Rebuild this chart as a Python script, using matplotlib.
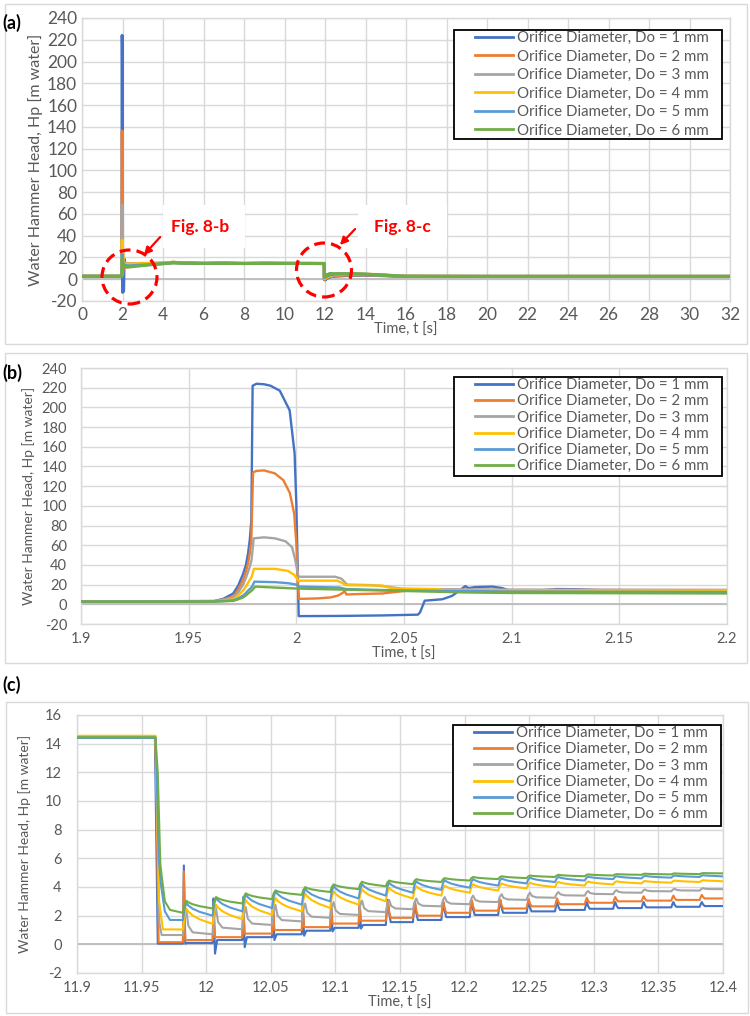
import matplotlib
matplotlib.use("Agg")
import matplotlib.pyplot as plt
import numpy as np
from matplotlib.patches import Rectangle, Ellipse, FancyArrowPatch

plt.rcParams['font.family'] = ['Lato', 'DejaVu Sans']

W, H = 750, 1016

labels = ["Orifice Diameter, Do = 1 mm", "Orifice Diameter, Do = 2 mm",
          "Orifice Diameter, Do = 3 mm", "Orifice Diameter, Do = 4 mm",
          "Orifice Diameter, Do = 5 mm", "Orifice Diameter, Do = 6 mm"]
colors = ["#4472C4", "#ED7D31", "#A5A5A5", "#FFC000", "#5B9BD5", "#70AD47"]

# ---------------- panel (b) data: t in [1.9, 2.2] ----------------
b_blue_t = [1.90, 1.962, 1.966, 1.9707, 1.973, 1.9753, 1.9766, 1.9776, 1.9784, 1.9791, 1.9797, 1.9815,
            1.985, 1.988, 1.9923, 1.9969, 1.9992, 2.0, 2.0006, 2.0011, 2.02, 2.04, 2.0565, 2.0575, 2.0596,
            2.0677, 2.0723, 2.075, 2.0785, 2.0800, 2.083, 2.091, 2.0957, 2.099, 2.11, 2.121, 2.13, 2.14, 2.2]
b_blue_v = [2.7, 3.4, 5.5, 11, 19, 31, 40, 52, 66, 85, 222, 224,
            223.5, 222, 217, 197, 153, 102, 40, -12, -11.8, -11.3, -10.5, -8, 3.7,
            5.1, 8.5, 12.8, 18.5, 16.4, 17.5, 18, 16.4, 14, 13.5, 15.5, 15.3, 14.5, 14]
b_orange_t = [1.90, 1.962, 1.966, 1.9707, 1.973, 1.9753, 1.9766, 1.9776, 1.9784, 1.9791, 1.9799, 1.9815,
              1.985, 1.99, 1.994, 1.997, 1.999, 2.0, 2.0007, 2.0013, 2.01, 2.016, 2.0195, 2.0218, 2.0224,
              2.0232, 2.03, 2.04, 2.046, 2.052, 2.07, 2.1, 2.2]
b_orange_v = [2.7, 3.2, 4.8, 8, 15, 25, 33, 42, 52, 65, 134, 135.5,
              136, 133, 126, 113, 92, 62, 20, 5.5, 6, 7, 9, 12, 14,
              10, 10.5, 11, 12.5, 14, 14.8, 14.6, 14.5]
b_gray_t = [1.90, 1.962, 1.966, 1.9707, 1.973, 1.9753, 1.9766, 1.9776, 1.9785, 1.9792, 1.9802, 1.985,
            1.99, 1.995, 1.998, 1.9995, 2.001, 2.018, 2.021, 2.0235, 2.035, 2.042, 2.05, 2.1, 2.2]
b_gray_v = [2.7, 3.1, 4.5, 7, 12, 20, 27, 33, 39, 45, 67, 68,
            67, 64, 58, 45, 28, 28, 26, 20, 19.5, 18, 15.5, 14.8, 14.6]
b_yellow_t = [1.90, 1.962, 1.966, 1.9707, 1.973, 1.9753, 1.9766, 1.9776, 1.9786, 1.9793, 1.9803, 1.99,
              1.996, 1.999, 2.001, 2.019, 2.021, 2.023, 2.04, 2.043, 2.047, 2.065, 2.07, 2.2]
b_yellow_v = [2.7, 3.0, 3.8, 5, 9, 14, 18, 22, 25.5, 28, 36, 36,
              34, 30, 24, 24, 22, 19.5, 19, 17, 16, 15.5, 14.2, 14]
b_lblue_t = [1.90, 1.962, 1.966, 1.9707, 1.973, 1.9753, 1.9766, 1.9776, 1.9787, 1.9795, 1.9805, 1.99,
             1.996, 2.0, 2.001, 2.02, 2.023, 2.04, 2.05, 2.1, 2.2]
b_lblue_v = [2.7, 2.9, 3.3, 4, 6, 9, 11.5, 14, 16.2, 18, 23, 22.5,
             21.5, 20, 18, 17, 15.5, 14.5, 14, 13, 12.5]
b_green_t = [1.90, 1.962, 1.966, 1.9707, 1.973, 1.9753, 1.9766, 1.9776, 1.9788, 1.9798, 1.981, 1.99,
             2.0, 2.01, 2.03, 2.05, 2.08, 2.1, 2.2]
b_green_v = [2.7, 2.8, 3.0, 3.5, 5, 7, 9, 11, 13, 15, 18, 17,
             16, 15.5, 14.5, 13.5, 12, 11.5, 11]

# ---------------- panel (c) data: t in [11.9, 12.4] ----------------
c_pulse_t = [11.982, 12.005, 12.028, 12.051, 12.074, 12.096, 12.118, 12.139, 12.160, 12.182,
             12.204, 12.226, 12.248, 12.270, 12.293, 12.315, 12.337, 12.360, 12.382]
# initial drop
c_blue_t0 = [11.90, 11.9603, 11.9625];  c_blue_v0 = [14.45, 14.45, 0.05]
c_orange_t0 = [11.90, 11.9607, 11.9632]; c_orange_v0 = [14.45, 14.45, 0.15]
c_gray_t0 = [11.90, 11.9608, 11.9638, 11.9655]; c_gray_v0 = [14.45, 14.45, 1.5, 0.65]
c_yellow_t0 = [11.90, 11.9608, 11.9635, 11.9665]; c_yellow_v0 = [14.55, 14.55, 3.0, 1.04]
c_lblue_t0 = [11.90, 11.961, 11.9632, 11.9652, 11.968, 11.972]; c_lblue_v0 = [14.4, 14.4, 6.0, 4.0, 2.3, 1.7]
c_green_t0 = [11.90, 11.9605, 11.9615, 11.9625, 11.9645, 11.9655, 11.968, 11.972]
c_green_v0 = [14.45, 14.45, 13.3, 12.0, 5.6, 4.8, 3.0, 2.4]
c_pre = [0.05, 0.15, 0.65, 1.04, 1.7, 2.2]
# pulse peaks
c_blue_peak = [5.5, 3.2, 3.3, 3.0, 2.8, 2.8, 2.9, 3.1, 2.9, 2.9, 3.05, 3.1, 2.95, 2.95, 2.95, 2.95, 2.95, 2.95, 2.95]
c_orange_peak = [5.1, 2.6, 2.8, 2.9, 2.8, 2.85, 3.0, 2.95, 2.95, 3.0, 3.05, 3.1, 3.15, 3.2, 3.25, 3.3, 3.35, 3.4, 3.45]
c_gray_peak = [2.4, 2.5, 2.6, 2.75, 2.85, 2.95, 3.05, 3.1, 3.2, 3.3, 3.4, 3.5, 3.6, 3.65, 3.72, 3.78, 3.83, 3.88, 3.92]
c_yellow_peak = [2.5, 2.77, 3.1, 3.24, 3.55, 3.7, 3.85, 3.95, 4.05, 4.1, 4.2, 4.25, 4.3, 4.35, 4.38, 4.4, 4.42, 4.45, 4.47]
c_lblue_peak = [2.88, 3.24, 3.47, 3.7, 3.88, 4.07, 4.2, 4.3, 4.4, 4.48, 4.55, 4.6, 4.65, 4.7, 4.72, 4.75, 4.78, 4.8, 4.82]
c_green_peak = [3.04, 3.3, 3.56, 3.76, 3.99, 4.18, 4.37, 4.45, 4.55, 4.62, 4.7, 4.75, 4.8, 4.85, 4.88, 4.9, 4.93, 4.95, 4.97]
# levels reached before the following pulse
c_blue_base = [0.1, 0.3, 0.5, 0.7, 0.95, 1.15, 1.35, 1.55, 1.7, 1.9, 2.05, 2.2, 2.3, 2.4, 2.48, 2.53, 2.58, 2.62, 2.67]
c_blue_dip = [0.05, -0.65, -0.2, 0.3, 0.6, 0.9, 1.1, 1.3, 1.45, 1.65, 1.85, 2.05, 2.2, 2.3, 2.4, 2.45, 2.5, 2.55, 2.6]
c_orange_base = [0.3, 0.5, 0.75, 1.0, 1.2, 1.45, 1.65, 1.85, 2.0, 2.2, 2.35, 2.5, 2.65, 2.8, 2.9, 3.0, 3.05, 3.1, 3.2]
c_gray_base = [0.7, 1.05, 1.35, 1.6, 1.85, 2.05, 2.25, 2.45, 2.65, 2.8, 2.95, 3.1, 3.25, 3.4, 3.5, 3.6, 3.7, 3.75, 3.85]
c_yellow_base = [1.42, 1.75, 2.06, 2.3, 2.53, 2.77, 3.0, 3.2, 3.4, 3.6, 3.75, 3.9, 4.0, 4.1, 4.18, 4.25, 4.3, 4.35, 4.4]
c_lblue_base = [2.0, 2.3, 2.53, 2.77, 3.0, 3.2, 3.4, 3.6, 3.8, 3.95, 4.1, 4.25, 4.35, 4.45, 4.55, 4.6, 4.65, 4.7, 4.74]
c_green_base = [2.5, 2.85, 3.15, 3.45, 3.65, 3.85, 4.05, 4.2, 4.35, 4.45, 4.55, 4.62, 4.7, 4.75, 4.8, 4.85, 4.88, 4.9, 4.95]

# ---------------- panel (a) extra data (outside the zoomed windows) ----------------
a_start_t = [0.0];  a_start_v = [2.7]
a_mid_t = [2.3, 2.6, 3.0, 3.5, 4.0, 4.5, 5.0, 6.0, 7.0, 8.0, 9.0, 10.0, 11.0, 11.85]
a_mid = [
    [13.0, 13.3, 13.6, 14.0, 14.6, 15.5, 15.0, 14.5, 14.8, 14.4, 14.7, 14.5, 14.5, 14.5],
    [14.0, 14.2, 14.3, 14.5, 14.8, 15.6, 15.0, 14.5, 14.7, 14.5, 14.6, 14.5, 14.5, 14.5],
    [14.3, 14.4, 14.5, 14.6, 14.8, 15.4, 14.9, 14.6, 14.7, 14.5, 14.6, 14.5, 14.5, 14.5],
    [14.0, 14.1, 14.3, 14.5, 14.8, 15.5, 15.0, 14.6, 14.8, 14.5, 14.7, 14.5, 14.5, 14.55],
    [12.3, 12.6, 13.0, 13.6, 14.3, 15.2, 14.8, 14.5, 14.7, 14.5, 14.6, 14.5, 14.5, 14.45],
    [11.2, 11.8, 12.6, 13.5, 14.3, 15.0, 14.8, 14.6, 14.7, 14.5, 14.6, 14.5, 14.5, 14.45],
]
a_post_t = [12.6, 13.0, 13.5, 14.0, 14.5, 15.0, 15.5, 16.0, 20.0, 32.0]
a_post = [
    [2.9, 3.3, 3.6, 3.7, 3.5, 3.2, 2.8, 2.6, 2.6, 2.6],
    [3.4, 3.8, 4.0, 4.0, 3.8, 3.4, 2.9, 2.7, 2.6, 2.6],
    [4.0, 4.3, 4.4, 4.3, 4.0, 3.6, 3.0, 2.7, 2.6, 2.6],
    [4.6, 4.8, 4.8, 4.6, 4.4, 4.0, 3.3, 2.8, 2.6, 2.6],
    [4.9, 5.0, 4.9, 4.6, 4.1, 3.5, 3.0, 2.7, 2.6, 2.6],
    [5.1, 5.1, 5.0, 4.7, 4.2, 3.6, 3.0, 2.7, 2.6, 2.6],
]

a_xticks = list(range(0, 33, 2))
a_yticks = list(range(-20, 241, 20))
b_xticks = [1.9, 1.95, 2.0, 2.05, 2.1, 2.15, 2.2]
b_xlabels = ['1.9', '1.95', '2', '2.05', '2.1', '2.15', '2.2']
b_yticks = list(range(-20, 241, 20))
c_xticks = [11.9, 11.95, 12.0, 12.05, 12.1, 12.15, 12.2, 12.25, 12.3, 12.35, 12.4]
c_xlabels = ['11.9', '11.95', '12', '12.05', '12.1', '12.15', '12.2', '12.25', '12.3', '12.35', '12.4']
c_yticks = list(range(-2, 17, 2))


def build_c(t0, v0, pre, peaks, bases, kind, dips=None, t_end=12.4):
    t = list(t0)
    v = list(v0)
    prev = pre
    for i, tp in enumerate(c_pulse_t):
        pk, bs = peaks[i], bases[i]
        if kind == 'spike':
            d = dips[i] if dips is not None else bs
            if i < 7:
                t += [tp, tp + 0.0007, tp + 0.0018, tp + 0.0035]
                v += [prev, pk, d, bs]
            else:
                t += [tp, tp + 0.0008, tp + 0.0016, tp + 0.0026, tp + 0.0038]
                v += [prev, prev + 0.6 * (pk - prev), pk, bs + 0.4 * (pk - bs), bs]
        elif kind == 'gray':
            t += [tp, tp + 0.0012, tp + 0.0026, tp + 0.0042, tp + 0.0075]
            v += [prev, prev + 0.65 * (pk - prev), pk, bs + 0.35 * (pk - bs), bs + 0.08 * (pk - bs)]
        else:
            t += [tp, tp + 0.0012, tp + 0.0026, tp + 0.0042, tp + 0.0075, tp + 0.013]
            v += [prev, prev + 0.65 * (pk - prev), pk, bs + 0.8 * (pk - bs),
                  bs + 0.55 * (pk - bs), bs + 0.3 * (pk - bs)]
        prev = bs
    t.append(t_end)
    v.append(prev)
    return np.array(t), np.array(v)


b_series = [(b_blue_t, b_blue_v), (b_orange_t, b_orange_v), (b_gray_t, b_gray_v),
            (b_yellow_t, b_yellow_v), (b_lblue_t, b_lblue_v), (b_green_t, b_green_v)]
c_series = [
    build_c(c_blue_t0, c_blue_v0, c_pre[0], c_blue_peak, c_blue_base, 'spike', c_blue_dip),
    build_c(c_orange_t0, c_orange_v0, c_pre[1], c_orange_peak, c_orange_base, 'spike'),
    build_c(c_gray_t0, c_gray_v0, c_pre[2], c_gray_peak, c_gray_base, 'gray'),
    build_c(c_yellow_t0, c_yellow_v0, c_pre[3], c_yellow_peak, c_yellow_base, 'smooth'),
    build_c(c_lblue_t0, c_lblue_v0, c_pre[4], c_lblue_peak, c_lblue_base, 'smooth'),
    build_c(c_green_t0, c_green_v0, c_pre[5], c_green_peak, c_green_base, 'smooth'),
]
a_series = []
for k in range(6):
    ta = np.concatenate([a_start_t, b_series[k][0], a_mid_t, c_series[k][0], a_post_t])
    va = np.concatenate([a_start_v, b_series[k][1], a_mid[k], c_series[k][1], a_post[k]])
    a_series.append((ta, va))

fig = plt.figure(figsize=(W / 100, H / 100), dpi=100)

GRID = "#D9D9D9"
TXT = "#595959"


def fbox(x0, y0, x1, y1):
    return [x0 / W, 1 - y1 / H, (x1 - x0) / W, (y1 - y0) / H]


def frect(x0, y0, x1, y1, **kw):
    fig.add_artist(Rectangle((x0 / W, 1 - y1 / H), (x1 - x0) / W, (y1 - y0) / H,
                             transform=fig.transFigure, **kw))


def style_ax(ax, xt, xl, yt, xlim, ylim, fs, ypad, xpad):
    ax.set_xlim(*xlim)
    ax.set_ylim(*ylim)
    ax.set_xticks(xt)
    ax.set_xticklabels(xl)
    ax.set_yticks(yt)
    ax.set_yticklabels([str(v) for v in yt])
    ax.grid(True, color=GRID, lw=1.0)
    ax.set_axisbelow(True)
    for s in ax.spines.values():
        s.set_color(GRID)
        s.set_linewidth(1.0)
    ax.tick_params(length=0, labelsize=fs, labelcolor=TXT)
    ax.tick_params(axis='y', pad=ypad)
    ax.tick_params(axis='x', pad=xpad)
    ax.axhline(0, color="#BFBFBF", lw=1.4, zorder=1)


def add_legend(ax, box, fs, spacing):
    x0, y0, x1, y1 = box
    ax.add_patch(Rectangle((x0 / W, 1 - y1 / H), (x1 - x0) / W, (y1 - y0) / H,
                           transform=fig.transFigure, facecolor='white', edgecolor='black',
                           lw=1.3, zorder=40, clip_on=False))
    leg = ax.legend(loc='upper left', bbox_to_anchor=((x0 + 21) / W, 1 - (y0 + 1) / H),
                    bbox_transform=fig.transFigure,
                    fontsize=fs, frameon=False, borderpad=0.0, labelspacing=spacing,
                    handlelength=2.5, handletextpad=0.3, borderaxespad=0)
    leg.set_zorder(41)
    for tx in leg.get_texts():
        tx.set_color(TXT)
    for ln in leg.get_lines():
        ln.set_linewidth(2.0)
    return leg


# ---------- (a) ----------
frect(5, 4, 747, 344, fill=False, edgecolor=GRID, lw=1.0)
axa = fig.add_axes(fbox(82, 18, 730, 301))
for k in range(6):
    axa.plot(a_series[k][0], a_series[k][1], color=colors[k], lw=2.2, label=labels[k], zorder=3 + k)
style_ax(axa, a_xticks, [str(v) for v in a_xticks], a_yticks, (0, 32), (-20, 240), 12.5, 3.5, 4)
axa.set_xlabel("Time, t [s]", fontsize=10.5, color=TXT, labelpad=0)
axa.set_ylabel("Water Hammer Head, Hp [m water]", fontsize=11.5, color=TXT, labelpad=3)
add_legend(axa, (454, 30, 722, 139), 10.8, 0.3)
fig.text(2 / W, 1 - 23 / H, "(a)", fontsize=13, fontweight='bold', va='center', ha='left')

# annotations
for (cx, cy) in [(129.5, 277), (324, 270)]:
    fig.add_artist(Ellipse((cx / W, 1 - cy / H), 55 / W, 54 / H, transform=fig.transFigure,
                           fill=False, edgecolor='#FF0000', lw=2.3, linestyle=(0, (3.4, 1.9)), zorder=20))
for (tx, ty, txt, bx0, bx1) in [(200, 227, "Fig. 8-b", 163, 245), (402, 227, "Fig. 8-c", 358, 447)]:
    frect(bx0, 205, bx1, 248, facecolor='white', edgecolor='none', zorder=15)
    fig.text(tx / W, 1 - ty / H, txt, color='#FF0000', fontsize=12.5, fontweight='bold',
             ha='center', va='center', zorder=21)
for (p0, p1) in [((162, 235), (142, 257)), ((357, 227), (338, 247))]:
    fig.add_artist(FancyArrowPatch((p0[0] / W, 1 - p0[1] / H), (p1[0] / W, 1 - p1[1] / H),
                                   transform=fig.transFigure, arrowstyle='-|>', mutation_scale=11,
                                   color='#FF0000', lw=1.6, zorder=21))

# ---------- (b) ----------
frect(5, 353, 747, 663, fill=False, edgecolor=GRID, lw=1.0)
axb = fig.add_axes(fbox(81, 368, 727, 624))
for k in range(6):
    axb.plot(b_series[k][0], b_series[k][1], color=colors[k], lw=1.7, label=labels[k], zorder=3 + k)
style_ax(axb, b_xticks, b_xlabels, b_yticks, (1.9, 2.2), (-20, 240), 10.5, 10, 6)
axb.set_xlabel("Time, t [s]", fontsize=10.5, color=TXT, labelpad=0)
axb.set_ylabel("Water Hammer Head, Hp [m water]", fontsize=10, color=TXT, labelpad=5)
add_legend(axb, (454, 377, 722, 476), 10.8, 0.15)
fig.text(2 / W, 1 - 373 / H, "(b)", fontsize=13, fontweight='bold', va='center', ha='left')

# ---------- (c) ----------
frect(6, 702, 748, 1013, fill=False, edgecolor=GRID, lw=1.0)
axc = fig.add_axes(fbox(77, 715, 723, 973))
for k in range(6):
    axc.plot(c_series[k][0], c_series[k][1], color=colors[k], lw=1.5, label=labels[k], zorder=3 + k)
style_ax(axc, c_xticks, c_xlabels, c_yticks, (11.9, 12.4), (-2, 16), 10.5, 11, 6)
axc.set_xlabel("Time, t [s]", fontsize=10.5, color=TXT, labelpad=0)
axc.set_ylabel("Water Hammer Head, Hp [m water]", fontsize=10, color=TXT, labelpad=10)
add_legend(axc, (453, 725, 721, 826), 10.8, 0.15)
fig.text(2 / W, 1 - 685 / H, "(c)", fontsize=13, fontweight='bold', va='center', ha='left')

fig.savefig("out.png", dpi=100)
